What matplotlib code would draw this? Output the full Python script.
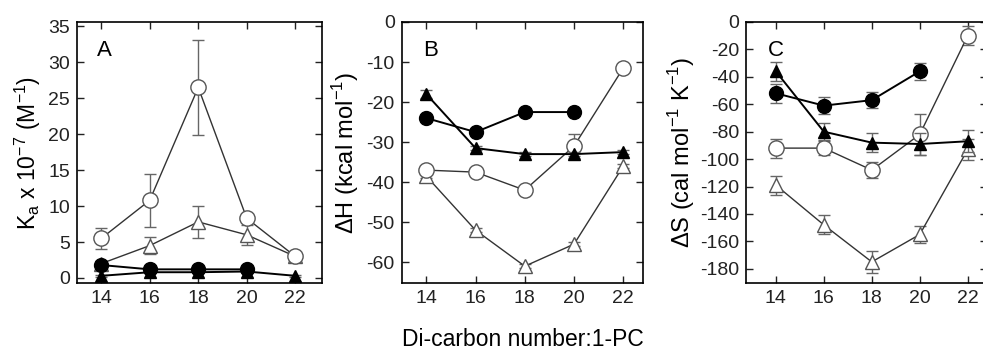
import numpy as np
import matplotlib
matplotlib.use("Agg")
import matplotlib.pyplot as plt

plt.rcParams['font.family'] = ['Liberation Sans', 'DejaVu Sans']
plt.rcParams['mathtext.fontset'] = 'custom'
plt.rcParams['mathtext.rm'] = 'Liberation Sans'
plt.rcParams['axes.unicode_minus'] = False

carbon = [14, 16, 18, 20, 22]
carbon_fc = [14, 16, 18, 20]

# panel A: Ka x 1e-7 (M^-1)
ka_oc = [5.5, 10.8, 26.5, 8.3, 3.0]
ka_oc_err = [1.5, 3.7, 6.6, 0.5, 0.5]
ka_ot = [2.0, 4.5, 7.8, 6.0, 3.0]
ka_ot_err = [0.3, 1.2, 2.2, 1.4, 0.6]
ka_fc = [1.8, 1.2, 1.2, 1.2]
ka_fc_err = [0.2, 0.2, 0.2, 0.2]
ka_ft = [0.3, 0.8, 0.8, 0.9, 0.3]
ka_ft_err = [0.1, 0.1, 0.1, 0.1, 0.1]

# panel B: dH (kcal/mol)
dh_oc = [-37, -37.5, -42, -31, -11.5]
dh_oc_err = [0.5, 0.5, 0.5, 3.0, 0.5]
dh_ot = [-38.5, -52, -61, -55.5, -36]
dh_ot_err = [0.5, 0.5, 0.5, 0.5, 0.5]
dh_fc = [-24, -27.5, -22.5, -22.5]
dh_fc_err = [0.5, 0.5, 0.5, 0.5]
dh_ft = [-18, -31.5, -33, -33, -32.5]
dh_ft_err = [1.0, 0.5, 0.5, 0.5, 0.5]

# panel C: dS (cal/mol/K)
ds_oc = [-92, -92, -108, -82, -10]
ds_oc_err = [7, 5, 6, 15, 7]
ds_ot = [-119, -148, -175, -155, -93]
ds_ot_err = [7, 7, 8, 6, 8]
ds_fc = [-52, -61, -57, -36]
ds_fc_err = [7, 6, 6, 6]
ds_ft = [-36, -80, -88, -89, -87]
ds_ft_err = [7, 6, 7, 8, 8]

fig = plt.figure(figsize=(9.83, 3.52), dpi=100)
axA = fig.add_axes([0.0783, 0.196, 0.2492, 0.7415])
axB = fig.add_axes([0.4086, 0.196, 0.2455, 0.7415])
axC = fig.add_axes([0.759, 0.196, 0.245, 0.7415])


def draw(ax, oc, oce, ot, ote, fc, fce, ft, fte):
    eb = dict(ecolor='#666666', elinewidth=1, capsize=4, capthick=1)
    ax.errorbar(carbon, ot, yerr=ote, fmt='-^', color='#333333', lw=1,
                mfc='white', mec='#555555', ms=10, mew=1, zorder=2, **eb)
    ax.errorbar(carbon, oc, yerr=oce, fmt='-o', color='#333333', lw=1,
                mfc='white', mec='#555555', ms=11, mew=1, zorder=2, **eb)
    ax.errorbar(carbon, ft, yerr=fte, fmt='-^', color='black', lw=1.4,
                mfc='black', mec='black', ms=9, zorder=3, **eb)
    ax.errorbar(carbon_fc, fc, yerr=fce, fmt='-o', color='black', lw=1.4,
                mfc='black', mec='black', ms=10, zorder=3, **eb)
    ax.set_xticks(carbon)
    ax.tick_params(direction='in', top=True, right=True, length=5,
                   labelsize=14, pad=5, width=1, colors='#222222')
    for s in ax.spines.values():
        s.set_linewidth(1.2)


draw(axA, ka_oc, ka_oc_err, ka_ot, ka_ot_err, ka_fc, ka_fc_err, ka_ft, ka_ft_err)
axA.set_xlim(13.0, 23.1)
axA.set_ylim(-0.7, 35.6)
axA.set_yticks(np.arange(0, 36, 5))
axA.set_ylabel(r'K$_\mathregular{a}$ x 10$^\mathregular{-7}$ (M$^\mathregular{-1}$)', fontsize=16.5, labelpad=4)
axA.text(0.08, 0.93, 'A', transform=axA.transAxes, fontsize=16, va='top')

draw(axB, dh_oc, dh_oc_err, dh_ot, dh_ot_err, dh_fc, dh_fc_err, dh_ft, dh_ft_err)
axB.set_xlim(13.0, 22.8)
axB.set_ylim(-65.2, 0)
axB.set_yticks(np.arange(-60, 1, 10))
axB.set_ylabel('ΔH (kcal mol$^\\mathregular{-1}$)', fontsize=17, labelpad=4)
axB.text(0.087, 0.93, 'B', transform=axB.transAxes, fontsize=16, va='top')

draw(axC, ds_oc, ds_oc_err, ds_ot, ds_ot_err, ds_fc, ds_fc_err, ds_ft, ds_ft_err)
axC.set_xlim(12.76, 22.8)
axC.set_ylim(-190.4, 0)
axC.set_yticks(np.arange(-180, 1, 20))
axC.set_ylabel('ΔS (cal mol$^\\mathregular{-1}$ K$^\\mathregular{-1}$)', fontsize=17, labelpad=2)
axC.text(0.092, 0.93, 'C', transform=axC.transAxes, fontsize=16, va='top')

fig.text(523 / 983, 1 - 340 / 352, 'Di-carbon number:1-PC', ha='center',
         va='center', fontsize=16.5)

fig.savefig('out.png', dpi=100)
